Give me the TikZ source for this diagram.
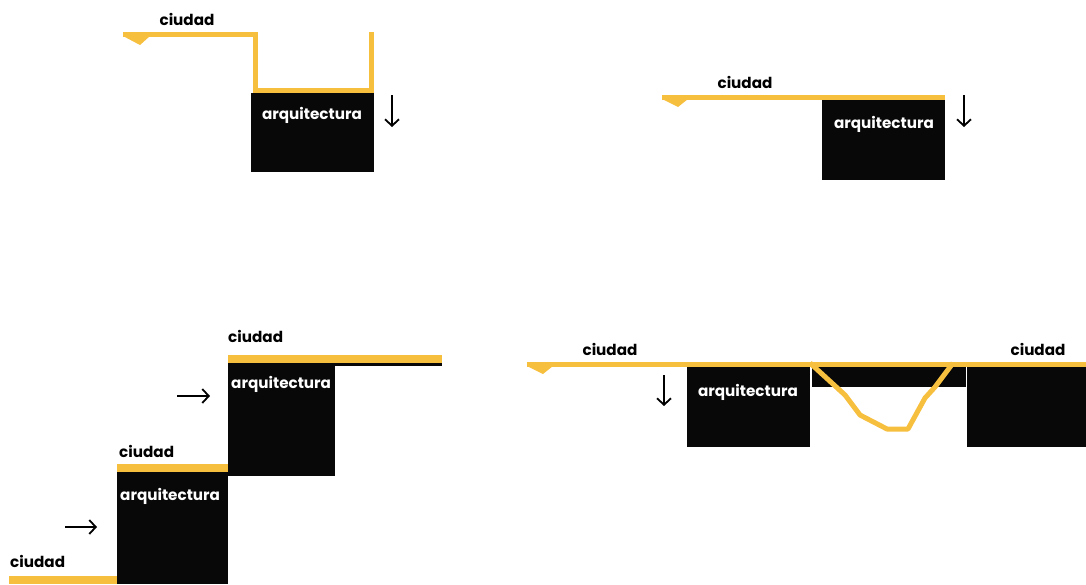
\documentclass[tikz,border=0pt]{standalone}
\usepackage{fontspec}
\setmainfont{Poppins}
\usetikzlibrary{arrows.meta}
\definecolor{cyel}{RGB}{247,191,62}
\definecolor{cblk}{RGB}{8,8,8}
\tikzset{
  yline/.style={draw=cyel,line width=5pt,line cap=butt,line join=miter},
  ythick/.style={draw=cyel,line width=8pt,line cap=butt},
  flag/.style={fill=cyel},
  block/.style={fill=cblk},
  city/.style={inner sep=0pt,font=\fontsize{15.2}{15}\selectfont\bfseries,text=black,anchor=base},
  arch/.style={inner sep=0pt,font=\fontsize{15.2}{15}\selectfont\bfseries,text=white,anchor=base},
  mv/.style={draw=black,line width=1.8pt,-{Straight Barb[length=6.5pt,width=14pt,line width=1.8pt]}}
}
\begin{document}
\begin{tikzpicture}[x=1pt,y=-1pt]
\useasboundingbox (0,0) rectangle (1086,584);
% ---------- panel 1
\fill[block] (251,93) rectangle (374,172);
\draw[yline] (123,34) -- (255,34) -- (255,90.5) -- (371.5,90.5) -- (371.5,32);
\fill[flag] (123,36) -- (150,36) -- (140,45) -- cycle;
\node[city] (c1) at (187,25) {ciudad};
\node[arch] (a1) at (312,119) {arquitectura};
\coordinate (d1s) at (392,95); \coordinate (d1e) at (392,127);
\draw[mv] (d1s) -- (d1e);
% ---------- panel 2
\fill[block] (822,100) rectangle (945,180);
\draw[yline] (662,97) -- (945,97);
\fill[flag] (662,99) -- (688,99) -- (678,107) -- cycle;
\node[city] (c2) at (745,88) {ciudad};
\node[arch] (a2) at (884,128) {arquitectura};
\coordinate (d2s) at (964,95); \coordinate (d2e) at (964,127);
\draw[mv] (d2s) -- (d2e);
% ---------- panel 3
\fill[block] (228,363) rectangle (335,476);
\fill[block] (117,472) rectangle (228,584);
\draw[ythick] (228,359) -- (442,359);
\draw[draw=cblk,line width=3pt] (335,364.5) -- (442,364.5);
\draw[ythick] (117,468) -- (228,468);
\draw[ythick] (9,580) -- (117,580);
\node[city,anchor=base west] (c3) at (228,342) {ciudad};
\node[arch,anchor=base west] (a3) at (231,388) {arquitectura};
\node[city,anchor=base west] (c4) at (119,457) {ciudad};
\node[arch,anchor=base west] (a4) at (120,500) {arquitectura};
\node[city,anchor=base west] (c5) at (10,567) {ciudad};
\coordinate (r1s) at (177,396); \coordinate (r1e) at (210,396);
\draw[mv] (r1s) -- (r1e);
\coordinate (r2s) at (65,527); \coordinate (r2e) at (97,527);
\draw[mv] (r2s) -- (r2e);
% ---------- panel 4
\fill[block] (687,367) rectangle (810,447);
\fill[block] (812,367) rectangle (966,387);
\fill[block] (967,367) rectangle (1086,447);
\draw[yline] (527,364.5) -- (1086,364.5);
\fill[flag] (527,366) -- (553,366) -- (543,374) -- cycle;
\draw[yline,line join=round] (810,363) -- (845,395) -- (860,415) -- (887,429) -- (908,429) -- (925,398) -- (935,387) -- (953,363);
\node[city] (c6) at (610,355) {ciudad};
\node[city] (c7) at (1038,355) {ciudad};
\node[arch] (a5) at (748,396) {arquitectura};
\coordinate (d3s) at (664,375); \coordinate (d3e) at (664,406);
\draw[mv] (d3s) -- (d3e);
\end{tikzpicture}
\end{document}
